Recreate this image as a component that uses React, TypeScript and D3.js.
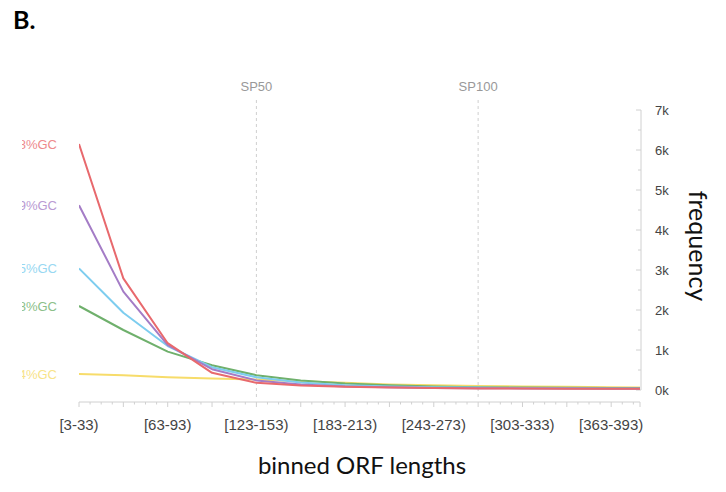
import React, { useEffect, useRef } from 'react';
import * as d3 from 'd3';

const bins = ['[3-33)', '[33-63)', '[63-93)', '[93-123)', '[123-153)', '[153-183)', '[183-213)', '[213-243)', '[243-273)', '[273-303)', '[303-333)', '[333-363)', '[363-393)', '[393-423)'];
const seriesNames = ['38%GC', '49%GC', '55%GC', '58%GC', '64%GC'];
const seriesColors = ['#e8696d', '#a47cc6', '#7dcdef', '#6fb06c', '#f7dc6a'];
const labelColors = ['#ee8a8d', '#b99ad3', '#98d8f2', '#8cbf89', '#f8e38a'];
// frequency per bin, in thousands
const red = [6.15, 2.79, 1.17, 0.43, 0.18, 0.11, 0.08, 0.06, 0.05, 0.04, 0.035, 0.03, 0.03, 0.03];
const purple = [4.62, 2.46, 1.12, 0.52, 0.24, 0.14, 0.09, 0.07, 0.05, 0.045, 0.04, 0.035, 0.03, 0.03];
const blue = [3.04, 1.93, 1.1, 0.57, 0.32, 0.19, 0.12, 0.09, 0.07, 0.06, 0.05, 0.045, 0.04, 0.04];
const green = [2.1, 1.5, 0.96, 0.62, 0.37, 0.24, 0.16, 0.12, 0.09, 0.07, 0.06, 0.055, 0.05, 0.05];
const yellow = [0.4, 0.37, 0.32, 0.29, 0.26, 0.22, 0.18, 0.14, 0.12, 0.1, 0.09, 0.08, 0.07, 0.06];
const yTicks = [0, 1, 2, 3, 4, 5, 6, 7];
const markers = [{ name: 'SP50', bin: 4 }, { name: 'SP100', bin: 9 }];

const App: React.FC = () => {
  const svgRef = useRef<SVGSVGElement>(null);

  useEffect(() => {
    if (!svgRef.current) return;
    const svg = d3.select(svgRef.current);
    svg.selectAll('*').remove();

    const left = 79, right = 640, top = 110, bottom = 390;
    const x = d3.scaleLinear().domain([0, 12.65]).range([left, right]);
    const y = d3.scaleLinear().domain([0, 7]).range([bottom, top]);
    const sans = "'Liberation Sans', Arial, sans-serif";
    const calibri = "Lato, 'Open Sans', sans-serif";

    svg.append('text').attr('x', 13).attr('y', 29).text('B.')
      .attr('font-family', calibri).attr('font-weight', 700).attr('font-size', 25).attr('fill', '#000');

    const defs = svg.append('defs');
    defs.append('clipPath').attr('id', 'plot').append('rect')
      .attr('x', left).attr('y', 0).attr('width', right - left).attr('height', 492);
    defs.append('clipPath').attr('id', 'lbl').append('rect')
      .attr('x', 22).attr('y', 0).attr('width', 60).attr('height', 492);

    // marker lines
    markers.forEach(m => {
      svg.append('line').attr('x1', x(m.bin)).attr('x2', x(m.bin)).attr('y1', 100).attr('y2', 400)
        .attr('stroke', '#cfcfcf').attr('stroke-dasharray', '3,3').attr('stroke-width', 1);
      svg.append('text').attr('x', x(m.bin)).attr('y', 91).attr('text-anchor', 'middle')
        .text(m.name).attr('font-family', sans).attr('font-size', 13).attr('fill', '#999');
    });

    // x axis
    const g = svg.append('g');
    g.append('line').attr('x1', left).attr('x2', right).attr('y1', 402).attr('y2', 402)
      .attr('stroke', '#d0d0d0');
    d3.range(0, 12.65, 0.25).forEach(v => {
      const major = Math.abs(v - Math.round(v)) < 1e-6;
      g.append('line').attr('x1', x(v)).attr('x2', x(v)).attr('y1', 402).attr('y2', major ? 407 : 404.5)
        .attr('stroke', '#d0d0d0');
    });
    g.append('line').attr('x1', right).attr('x2', right).attr('y1', 402).attr('y2', 407).attr('stroke', '#d0d0d0');
    bins.forEach((b, i) => {
      if (i % 2 !== 0 || x(i) > right) return;
      g.append('text').attr('x', x(i)).attr('y', 430).attr('text-anchor', 'middle').text(b)
        .attr('font-family', sans).attr('font-size', 15).attr('fill', '#444');
    });

    // y axis
    g.append('line').attr('x1', 641).attr('x2', 641).attr('y1', top).attr('y2', bottom).attr('stroke', '#d0d0d0');
    d3.range(0, 7.01, 0.5).forEach(v => {
      g.append('line').attr('x1', Number.isInteger(v) ? 636 : 638).attr('x2', 641)
        .attr('y1', y(v)).attr('y2', y(v)).attr('stroke', '#d0d0d0');
    });
    yTicks.forEach(t => {
      g.append('text').attr('x', 655).attr('y', y(t) + 5).text(`${t}k`)
        .attr('font-family', sans).attr('font-size', 13).attr('fill', '#444');
    });

    // lines
    const all = [red, purple, blue, green, yellow];
    const line = d3.line<number>().x((_, i) => x(i)).y(d => y(d));
    const lines = svg.append('g').attr('clip-path', 'url(#plot)');
    all.slice().reverse().forEach((s, ri) => {
      const i = all.length - 1 - ri;
      lines.append('path').datum(s).attr('d', line).attr('fill', 'none')
        .attr('stroke', seriesColors[i]).attr('stroke-width', 2).attr('stroke-linejoin', 'round');
    });

    // series labels (cut off on the left like the source)
    const lbl = svg.append('g').attr('clip-path', 'url(#lbl)');
    all.forEach((s, i) => {
      lbl.append('text').attr('x', 57).attr('y', y(s[0]) + 4.5).attr('text-anchor', 'end')
        .text(seriesNames[i]).attr('font-family', sans).attr('font-size', 13).attr('fill', labelColors[i]);
    });

    svg.append('text').attr('x', 362).attr('y', 474).attr('text-anchor', 'middle').text('binned ORF lengths')
      .attr('font-family', calibri).attr('font-size', 24).attr('fill', '#111');
    svg.append('text').attr('transform', 'translate(689,246) rotate(90)').attr('text-anchor', 'middle')
      .text('frequency').attr('font-family', calibri).attr('font-size', 25).attr('fill', '#111');
  }, []);

  return (
    <svg ref={svgRef} width={726} height={492}
      style={{ position: 'fixed', left: 0, top: 0, background: '#fff' }} />
  );
};

export default App;
